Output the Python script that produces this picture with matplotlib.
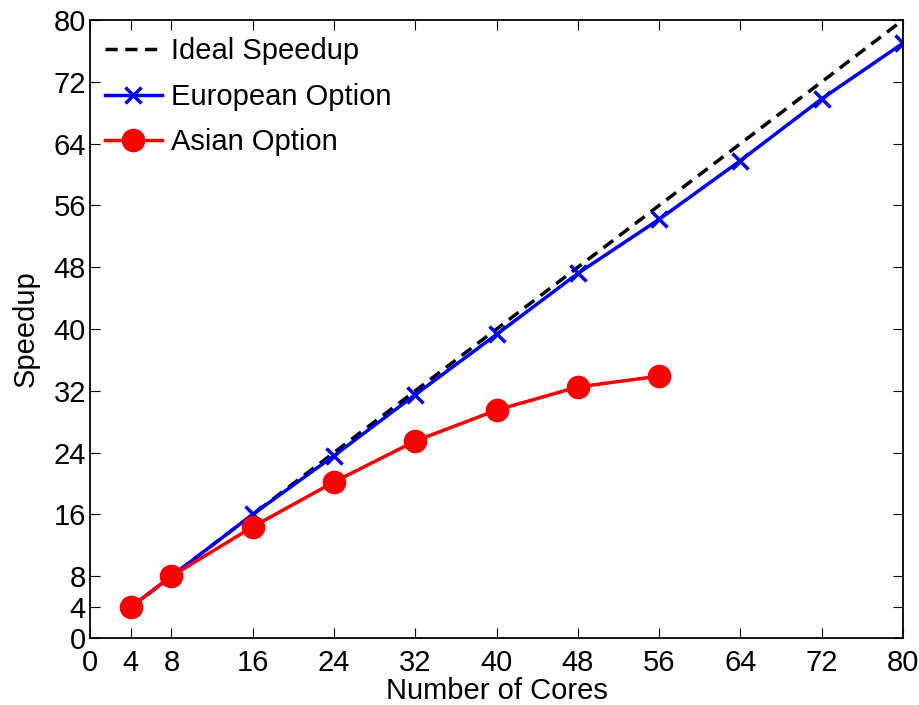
import numpy as np
import matplotlib
matplotlib.use("Agg")
import matplotlib.pyplot as plt

plt.rcParams['font.family'] = ['Liberation Sans', 'DejaVu Sans']

cores = [4, 8, 16, 24, 32, 40, 48, 56, 64, 72, 80]
ideal = [4, 8, 16, 24, 32, 40, 48, 56, 64, 72, 80]
european = [4, 8, 16, 23.6, 31.5, 39.3, 47.2, 54.2, 61.8, 69.8, 77.0]
asian_cores = [4, 8, 16, 24, 32, 40, 48, 56]
asian = [4, 8, 14.4, 20.2, 25.5, 29.5, 32.5, 33.9]

ticks = [0, 4, 8, 16, 24, 32, 40, 48, 56, 64, 72, 80]

fig = plt.figure(figsize=(9.2, 7.05), dpi=100)
ax = fig.add_axes([0.098, 0.095, 0.8835, 0.8766])

ax.plot(cores, ideal, 'k--', lw=2.5, dashes=(3.5, 2.2), label='Ideal Speedup')
ax.plot(cores, european, '-x', color='#0000ff', lw=2.5, ms=11, mew=2.5,
        label='European Option')
ax.plot(asian_cores, asian, '-o', color='#ff0000', lw=2.5, ms=16,
        label='Asian Option')

ax.set_xlim(0, 80)
ax.set_ylim(0, 80)
ax.set_xticks(ticks)
ax.set_yticks(ticks)
ax.tick_params(direction='in', top=True, right=True, length=7, labelsize=21, width=0.8)
ax.tick_params(axis='x', pad=8)
ax.tick_params(axis='y', pad=3)
ax.set_xlabel('Number of Cores', fontsize=21, labelpad=0)
ax.set_ylabel('Speedup', fontsize=21, labelpad=10)
for s in ax.spines.values():
    s.set_linewidth(1.3)

ax.legend(loc='upper left', bbox_to_anchor=(0.002, 0.993), frameon=False,
          fontsize=21, handlelength=1.95, borderaxespad=0, borderpad=0.45,
          labelspacing=0.6, handletextpad=0.3)

fig.savefig('out.png', dpi=100)
